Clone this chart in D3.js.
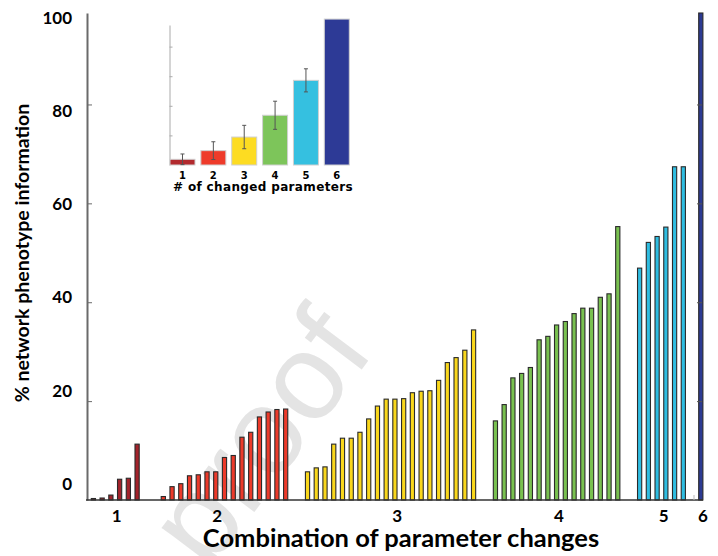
<!DOCTYPE html>
<html>
<head>
    <script src="https://d3js.org/d3.v7.min.js"></script>
    <style>
        body { margin: 0; background: #fff; }
    </style>
</head>
<body>
<div class="chart"></div>

<script>

    // main chart data: one array per number of changed parameters
    const groupLabels = ['1', '2', '3', '4', '5', '6'];
    const group1 = [0.3, 0.4, 1.0, 4.2, 4.4, 11.3];
    const group2 = [0.7, 2.7, 3.3, 4.9, 5.1, 5.7, 5.7, 8.6, 9.0, 12.7, 13.7, 16.8, 17.8, 18.3, 18.4];
    const group3 = [5.7, 6.5, 6.7, 11.3, 12.5, 12.5, 13.7, 16.4, 19.0, 20.4,
                    20.4, 20.5, 21.7, 22.0, 22.1, 24.2, 27.8, 28.8, 30.3, 34.4];
    const group4 = [16.0, 19.3, 24.7, 25.6, 26.8, 32.4, 33.1, 35.4, 36.1, 37.7, 38.8, 38.8, 41.0, 41.7, 55.3];
    const group5 = [46.9, 52.1, 53.3, 55.2, 67.4, 67.4];
    const group6 = [98.5];
    const groupColors = ['#a3232b', '#ec3a2a', '#f9d71c', '#79c150', '#2fbde1', '#2c3a92'];
    const groupTickSlots = [2.6, 14.1, 34.7, 53.2, 65.2, 69.7];
    const yTickLabels = [0, 20, 40, 60, 80, 100];

    // inset data
    const insetCategories = ['1', '2', '3', '4', '5', '6'];
    const insetMeans = [3.85, 9.7, 18.9, 33.6, 57.2, 98.6];
    const insetErrors = [3.6, 6.0, 7.9, 9.5, 7.8, 0];
    const insetColors = ['#b22a2e', '#ee3b2a', '#fddc22', '#7dc55a', '#35c0e0', '#2d3a96'];

    const width = 718;
    const height = 556;
    const svg = d3.select('.chart')
        .append('svg')
        .attr('width', width)
        .attr('height', height)

    // slot gaps between the groups
    const gaps = [0, 3, 2.5, 2.5, 2.5, 2];
    const groups = [group1, group2, group3, group4, group5, group6];
    let bars = [];
    let slot = 0;
    groups.forEach(function (g, gi) {
        if (gi > 0) slot += gaps[gi] - 1;
        g.forEach(function (v) {
            bars.push({ slot: slot, value: v, group: gi });
            slot += 1;
        })
    })

    const x = d3.scaleLinear().domain([0, 69.5]).range([93.4, 700.8]);
    const y = d3.scaleLinear().domain([0, 98.5]).range([500, 13]);
    const yLabel = d3.scaleLinear().domain([0, 100]).range([483.5, 18]);

    // watermark
    svg.append('text')
        .text('proof')
        .attr('transform', 'translate(292,462) rotate(-53)')
        .attr('text-anchor', 'middle')
        .attr('font-family', 'Liberation Sans, Arial, sans-serif')
        .attr('font-size', 122)
        .attr('fill', '#e4e4e4')

    // left axis
    const yAxis = svg.append('g')
        .attr('transform', 'translate(87,0)')
        .call(d3.axisRight(y).tickValues([20, 40, 60, 80]).tickSize(5).tickSizeOuter(0).tickFormat(''))
    yAxis.select('.domain').attr('stroke', '#6a6a6a').attr('stroke-width', 2)
    yAxis.selectAll('.tick line').attr('stroke', '#6a6a6a').attr('stroke-width', 1)

    // bars
    svg.selectAll('rect.bar')
        .data(bars)
        .enter()
        .append('rect')
        .attr('class', 'bar')
        .attr('x', function (d) { return x(d.slot) - 2.1; })
        .attr('width', 4.2)
        .attr('y', function (d) { return y(d.value); })
        .attr('height', function (d) { return y(0) - y(d.value); })
        .attr('fill', function (d) { return groupColors[d.group]; })
        .attr('stroke', '#2a2a2a')
        .attr('stroke-width', 1.1)

    // right axis ticks (drawn over the last bar)
    const rAxis = svg.append('g')
        .attr('transform', 'translate(702,0)')
        .call(d3.axisLeft(y).tickValues([20, 40, 60, 80]).tickSize(5).tickSizeOuter(0).tickFormat(''))
    rAxis.select('.domain').remove()
    rAxis.selectAll('.tick line').attr('stroke', '#555')

    // baseline
    svg.append('line')
        .attr('x1', 86).attr('x2', 703)
        .attr('y1', y(0)).attr('y2', y(0))
        .attr('stroke', '#333')
        .attr('stroke-width', 1.5)
    svg.append('line')
        .attr('x1', 694).attr('x2', 694)
        .attr('y1', y(0) - 5).attr('y2', y(0))
        .attr('stroke', '#bbb')

    // group labels
    const xAxis = svg.append('g')
        .attr('transform', 'translate(0,500)')
        .call(d3.axisBottom(x).tickValues(groupTickSlots).tickSize(0).tickPadding(10)
            .tickFormat(function (d, i) { return groupLabels[i]; }))
    xAxis.select('.domain').remove()
    xAxis.selectAll('text')
        .attr('font-family', 'Lato, sans-serif')
        .attr('font-weight', 'bold')
        .attr('font-size', 17)
        .attr('fill', '#000')

    svg.selectAll('text.ylab')
        .data(yTickLabels)
        .enter()
        .append('text')
        .attr('class', 'ylab')
        .text(function (d) { return d; })
        .attr('x', 72)
        .attr('y', function (d) { return yLabel(d); })
        .attr('dy', '0.36em')
        .attr('text-anchor', 'end')
        .attr('font-family', 'Lato, sans-serif')
        .attr('font-weight', 'bold')
        .attr('font-size', 17)

    svg.append('text')
        .text('% network phenotype information')
        .attr('transform', 'translate(22,253) rotate(-90)')
        .attr('dy', '0.35em')
        .attr('text-anchor', 'middle')
        .attr('font-family', 'Lato, sans-serif')
        .attr('font-weight', 'bold')
        .attr('font-size', 19.5)

    svg.append('text')
        .text('Combination of parameter changes')
        .attr('x', 401)
        .attr('y', 547)
        .attr('text-anchor', 'middle')
        .attr('font-family', 'Lato, sans-serif')
        .attr('font-weight', 'bold')
        .attr('font-size', 25.5)

    // inset
    const ix = d3.scaleBand().domain(insetCategories).range([170, 349.3]).paddingInner(0.19).paddingOuter(0);
    const iy = d3.scaleLinear().domain([0, 94.6]).range([165, 25]);

    const iAxis = svg.append('g')
        .attr('transform', 'translate(169.5,0)')
        .call(d3.axisRight(iy).tickValues([20, 40, 60, 80]).tickSize(3).tickSizeOuter(0).tickFormat(''))
    iAxis.selectAll('.domain, .tick line').attr('stroke', '#aaa')

    svg.selectAll('rect.ibar')
        .data(insetMeans)
        .enter()
        .append('rect')
        .attr('class', 'ibar')
        .attr('x', function (d, i) { return ix(insetCategories[i]); })
        .attr('width', ix.bandwidth())
        .attr('y', function (d) { return iy(d); })
        .attr('height', function (d) { return iy(0) - iy(d); })
        .attr('fill', function (d, i) { return insetColors[i]; })
        .attr('stroke', '#d0d0d0')
        .attr('stroke-width', 1)

    const err = svg.selectAll('g.err')
        .data(insetMeans.slice(0, 5))
        .enter()
        .append('g')
        .attr('class', 'err')
        .attr('transform', function (d, i) { return 'translate(' + (ix(insetCategories[i]) + ix.bandwidth() / 2) + ',0)'; })
    err.append('line')
        .attr('y1', function (d, i) { return iy(Math.max(0, d - insetErrors[i])); })
        .attr('y2', function (d, i) { return iy(d + insetErrors[i]); })
        .attr('stroke', '#555')
    err.append('line')
        .attr('x1', -2).attr('x2', 2)
        .attr('y1', function (d, i) { return iy(d + insetErrors[i]); })
        .attr('y2', function (d, i) { return iy(d + insetErrors[i]); })
        .attr('stroke', '#555')
    err.append('line')
        .attr('x1', -2).attr('x2', 2)
        .attr('y1', function (d, i) { return iy(Math.max(0, d - insetErrors[i])); })
        .attr('y2', function (d, i) { return iy(Math.max(0, d - insetErrors[i])); })
        .attr('stroke', '#555')

    const ixAxis = svg.append('g')
        .attr('transform', 'translate(0,165)')
        .call(d3.axisBottom(ix).tickSize(0).tickPadding(6.5))
    ixAxis.select('.domain').remove()
    ixAxis.selectAll('text')
        .attr('font-family', 'DejaVu Sans, sans-serif')
        .attr('font-weight', 'bold')
        .attr('font-size', 10)
        .attr('fill', '#000')

    svg.append('text')
        .text('# of changed parameters')
        .attr('x', 263)
        .attr('y', 190.5)
        .attr('text-anchor', 'middle')
        .attr('font-family', 'DejaVu Sans, sans-serif')
        .attr('font-weight', 'bold')
        .attr('font-size', 12)
        .attr('letter-spacing', 0.35)

</script>
</body>
</html>
